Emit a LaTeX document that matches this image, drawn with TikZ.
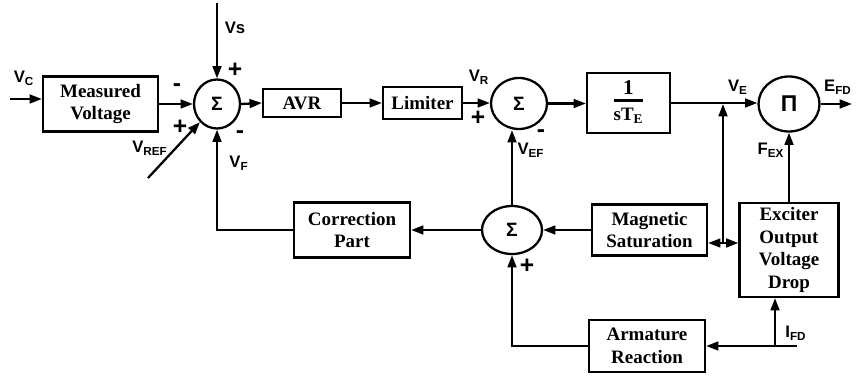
\documentclass[tikz,border=0pt]{standalone}
\usepackage{fontspec}
\setmainfont{Liberation Serif}
\setsansfont{Liberation Sans}
\usepackage{tikz}
\usetikzlibrary{shapes.geometric, arrows.meta, positioning, calc}

\newcommand{\sigl}[2]{#1\textsubscript{#2}}

\begin{document}
\begin{tikzpicture}[
    x=0.02cm, y=-0.02cm,
    line width=1.3pt,
    block/.style={draw, rectangle, align=center, inner sep=1pt, font=\fontsize{10.8}{13}\selectfont\bfseries},
    junc/.style={draw, ellipse, inner sep=0pt, font=\sffamily\bfseries\fontsize{11}{11}\selectfont},
    sig/.style={-{Triangle[length=7pt,width=5pt]}},
    lbl/.style={font=\sffamily\bfseries\fontsize{9.5}{10}\selectfont, inner sep=0pt},
    sgn/.style={font=\sffamily\bfseries\fontsize{14}{14}\selectfont, inner sep=0pt}
]
\useasboundingbox (0,0) rectangle (858,381);

% forward path
\node[block, minimum width=2.3cm, minimum height=1.1cm] (meas) at (100.5,104) {Measured\\Voltage};
\node[junc, minimum width=0.92cm, minimum height=0.98cm] (sum1) at (217,104) {Σ};
\node[block, minimum width=1.56cm, minimum height=0.56cm] (avr) at (302,103) {AVR};
\node[block, minimum width=1.58cm, minimum height=0.64cm] (lim) at (422.5,103) {Limiter};
\node[junc, minimum width=1.12cm, minimum height=1.02cm] (sum2) at (519,103.5) {Σ};
\node[block, minimum width=1.66cm, minimum height=1.2cm] (tf) at (628.5,103)
  {\setlength{\arrayrulewidth}{1.2pt}\begin{tabular}{@{}c@{}}\fontsize{12}{12}\selectfont 1\\[-1pt]\hline\rule{0pt}{11pt}sT\textsubscript{E}\end{tabular}};
\node[junc, minimum width=1.22cm, minimum height=1.1cm, font=\sffamily\bfseries\fontsize{13}{13}\selectfont] (prod) at (789,104) {Π};

% feedback path
\node[block, minimum width=2.3cm, minimum height=1.02cm] (mag) at (649.5,230) {Magnetic\\Saturation};
\node[block, minimum width=1.98cm, minimum height=1.88cm] (exc) at (789,250) {Exciter\\Output\\Voltage\\Drop};
\node[junc, minimum width=1.2cm, minimum height=0.96cm] (sum3) at (512,230) {Σ};
\node[block, minimum width=2.32cm, minimum height=1.1cm] (corr) at (352,230) {Correction\\Part};
\node[block, minimum width=2.32cm, minimum height=1.04cm] (arm) at (647,346) {Armature\\Reaction};

% free ends
\coordinate (vcin) at (10,99);
\coordinate (vsin) at (217,3);
\coordinate (vrefin) at (148,178);
\coordinate (efd) at (852,104);
\coordinate (jb) at (723,243);
\coordinate (ifd) at (797,346);
\coordinate (ifdj) at (775,346);

% connectors
\draw[sig] (vcin) -- (vcin -| meas.west);
\draw[sig] (meas.east) -- (sum1.west);
\draw[sig] (vsin) -- (sum1.north);
\draw[sig] (vrefin) -- (sum1.south west);
\draw[sig] (sum1.east) -- (avr.west);
\draw[sig] (avr.east) -- (lim.west);
\draw[sig] (lim.east) -- (lim.east -| sum2.west);
\draw[sig] (sum2.east) -- (sum2.east -| tf.west);
\draw[sig] (tf.east) -- (tf.east -| prod.west);
\draw[sig] (prod.east) -- (efd);
\draw[sig] (jb) -- (jb |- prod.west);
\draw[sig] (jb) -- (jb -| mag.east);
\draw[sig] (jb) -- (jb -| exc.west);
\draw[sig] (exc.north) -- (prod.south);
\draw[sig] (mag.west) -- (sum3.east);
\draw[sig] (sum3.west) -- (corr.east);
\draw[sig] (corr.west) -| (sum1.south);
\draw[sig] (sum3.north) -- (sum3.north |- sum2.south);
\draw[sig] (ifd) -- (arm.east);
\draw[sig] (ifdj) -- (ifdj |- exc.south);
\draw[sig] (arm.west) -| (sum3.south);

% signal names
\node[lbl] (vcl) at (24,78) {\sigl{V}{C}};
\node[lbl] (vsl) at (235,28) {Vs};
\node[lbl] (vrefl) at (150,148) {\sigl{V}{REF}};
\node[lbl] (vfl) at (239,163) {\sigl{V}{F}};
\node[lbl] (vrl) at (479,77) {\sigl{V}{R}};
\node[lbl] (vefl) at (531,150) {\sigl{V}{EF}};
\node[lbl] (vel) at (738,87) {\sigl{V}{E}};
\node[lbl] (efdl) at (838,87) {\sigl{E}{FD}};
\node[lbl] (fexl) at (771,150) {\sigl{F}{EX}};
\node[lbl] (ifdl) at (796,333) {\sigl{I}{FD}};

% signs
\node[sgn] (s1a) at (235,70) {+};
\node[sgn] (s1b) at (177,88) {-};
\node[sgn] (s1c) at (180,127) {+};
\node[sgn] (s1d) at (240,135) {-};
\node[sgn] (s2a) at (478,118) {+};
\node[sgn] (s2b) at (541,134) {-};
\node[sgn] (s3a) at (527,266) {+};
\end{tikzpicture}
\end{document}
